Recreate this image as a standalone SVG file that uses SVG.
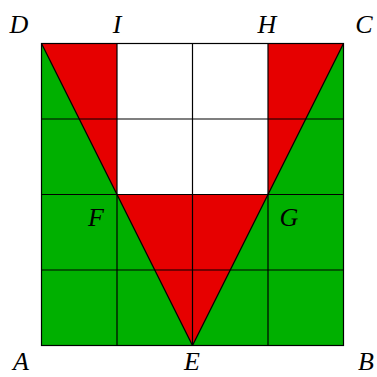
<svg xmlns="http://www.w3.org/2000/svg" width="377" height="377" viewBox="0 0 377 377">
<style>
.lbl{font-family:"Liberation Serif","DejaVu Serif",serif;font-style:italic;font-size:26px;fill:#000;text-anchor:middle}
.grid{stroke:#000;stroke-width:1.2;fill:none}
</style>
<rect width="377" height="377" fill="#fff"/>
<g id="square">
<rect x="41.5" y="43.5" width="302" height="302" fill="#00b000"/>
<polygon points="41.5,43.5 117,43.5 117,194.5 268,194.5 268,43.5 343.5,43.5 192.5,345.5" fill="#e60000"/>
<rect x="117" y="43.5" width="151" height="151" fill="#fff"/>
</g>
<g id="connectors" class="grid">
<rect x="41.5" y="43.5" width="302" height="302"/>
<line x1="117" y1="43.5" x2="117" y2="345.5"/>
<line x1="192.5" y1="43.5" x2="192.5" y2="345.5"/>
<line x1="268" y1="43.5" x2="268" y2="345.5"/>
<line x1="41.5" y1="119" x2="343.5" y2="119"/>
<line x1="41.5" y1="194.5" x2="343.5" y2="194.5"/>
<line x1="41.5" y1="270" x2="343.5" y2="270"/>
<line x1="41.5" y1="43.5" x2="192.5" y2="345.5"/>
<line x1="343.5" y1="43.5" x2="192.5" y2="345.5"/>
</g>
<g id="labels">
<text class="lbl" x="19" y="33">D</text>
<text class="lbl" x="117" y="33">I</text>
<text class="lbl" x="267" y="33">H</text>
<text class="lbl" x="364" y="33">C</text>
<text class="lbl" x="96" y="226">F</text>
<text class="lbl" x="289" y="226">G</text>
<text class="lbl" x="21" y="370">A</text>
<text class="lbl" x="192" y="370">E</text>
<text class="lbl" x="366" y="370">B</text>
</g>
</svg>
